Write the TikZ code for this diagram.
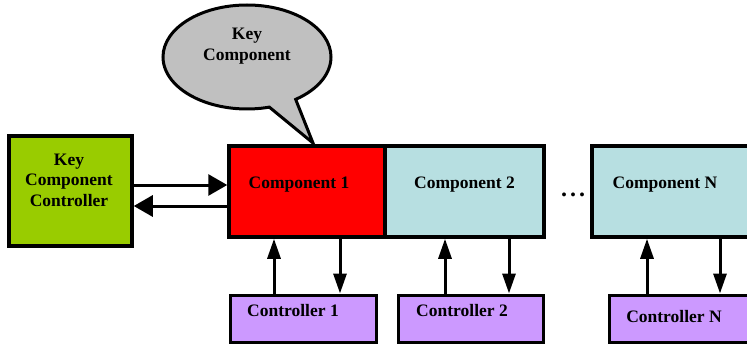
\documentclass[tikz,border=0pt]{standalone}
\usepackage{fontspec}
\setmainfont{Liberation Serif}
\usepackage{tikz}
\usetikzlibrary{positioning}
\usetikzlibrary{arrows.meta}
\usetikzlibrary{shapes.callouts}

\definecolor{keygreen}{HTML}{99CC00}
\definecolor{compblue}{HTML}{B7DFE1}
\definecolor{ctrlpurple}{HTML}{CC99FF}
\definecolor{bubblegray}{HTML}{C0C0C0}

\begin{document}
\begin{tikzpicture}[
    x=1pt, y=-1pt,
    box/.style = {draw, rectangle, line width=3.5pt, inner sep=0pt},
    comp/.style = {box, fill=compblue, minimum height=91pt},
    ctrl/.style = {box, line width=3pt, fill=ctrlpurple, minimum height=47pt},
    txt/.style = {font=\fontsize{17.5}{20.5}\selectfont\bfseries, align=center, inner sep=0pt},
    harr/.style = {line width=3pt, -{Triangle[length=19pt, width=21pt]}},
    varr/.style = {line width=3pt, -{Triangle[length=20pt, width=13pt]}}
]
\clip (0,0) rectangle (747,345);

% speech bubble
\node[draw, ellipse callout, fill=bubblegray, line width=3pt,
    minimum width=168pt, minimum height=104pt,
    callout absolute pointer={(313,143)}, callout pointer arc=20] (bub) at (247,57) {};
\node[txt] (bubt) at (247,46) {Key\\Component};

% key component controller
\node[box, fill=keygreen, minimum width=123pt, minimum height=110pt] (kcc) at (70.5,191) {};
\node[txt] (kcct) at (69,180) {Key\\Component\\Controller};

% components
\node[comp, fill=red, minimum width=156pt] (c1) at (307,191.5) {};
\node[comp, minimum width=159pt] (c2) at (464.5,191.5) {};
\node[comp, minimum width=178pt] (cN) at (681,191.5) {};
\node[txt] (c1t) at (299,185) {Component 1};
\node[txt] (c2t) at (464.5,185) {Component 2};
\node[txt] (cNt) at (665,185) {Component N};
\node[txt, anchor=base, font=\fontsize{24}{24}\selectfont\bfseries] (dots) at (573,196) {.\kern3pt.\kern3pt.};

% controllers
\node[ctrl, minimum width=146pt] (k1) at (303,318.5) {};
\node[ctrl, minimum width=145pt] (k2) at (470.5,318.5) {};
\node[ctrl, minimum width=171pt] (kN) at (694.5,318.5) {};
\node[txt] (k1t) at (293,311) {Controller 1};
\node[txt] (k2t) at (462,311) {Controller 2};
\node[txt] (kNt) at (674,317) {Controller N};

% arrows
\draw[harr] ([yshift=6pt]kcc.east) -- ([yshift=6pt]kcc.east -| c1.west);
\draw[harr] ([yshift=-15pt]kcc.east -| c1.west) -- ([yshift=-15pt]kcc.east);
\foreach \c/\k/\u/\d in {c1/k1/274/340, c2/k2/445/509, cN/kN/647/720} {
    \draw[varr] (\u,0 |- \k.north) -- (\u,0 |- \c.south);
    \draw[varr] (\d,0 |- \c.south) -- (\d,0 |- \k.north);
}
\end{tikzpicture}
\end{document}
